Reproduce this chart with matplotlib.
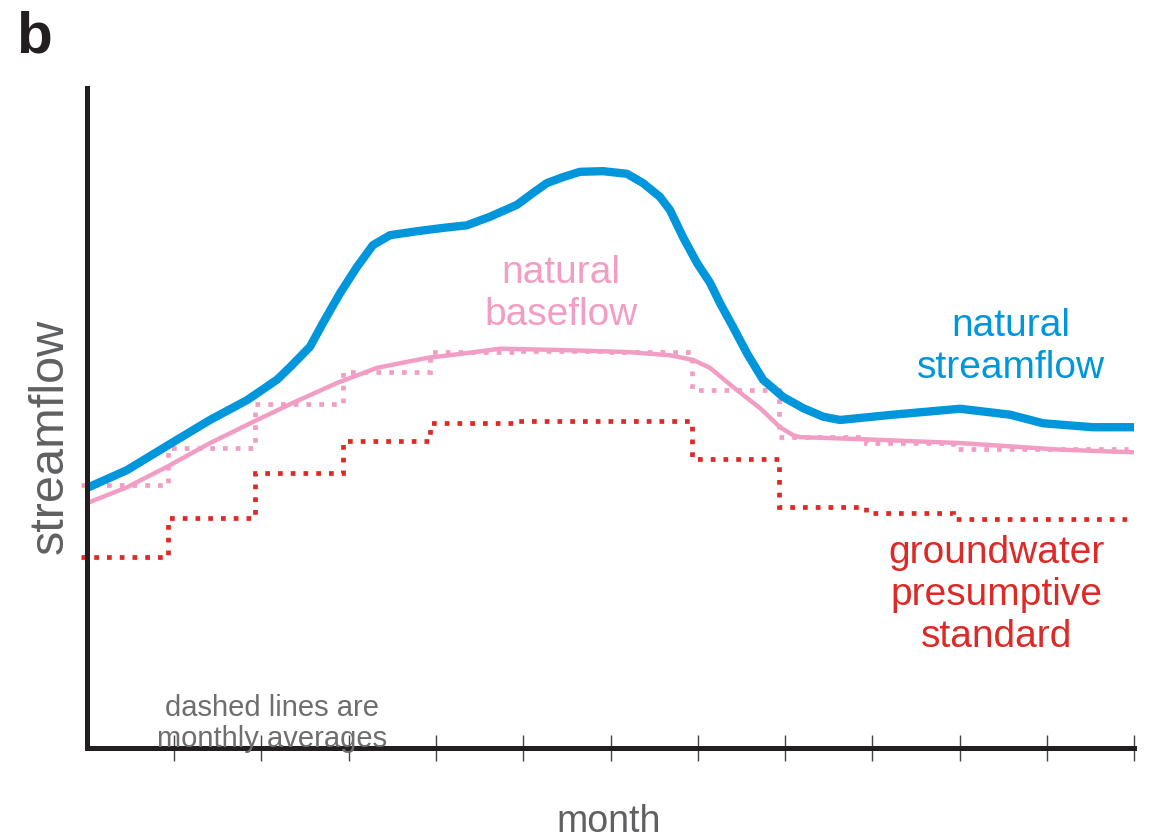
import numpy as np
import matplotlib.pyplot as plt

plt.rcParams['font.family'] = ['Liberation Sans', 'DejaVu Sans']

# natural streamflow (blue), x in months, y in arbitrary streamflow units (0-100)
flow_month = [0.0, 0.458, 1.032, 1.410, 1.834, 2.178, 2.327, 2.556, 2.705, 2.900,
              3.095, 3.278, 3.473, 3.782, 4.080, 4.355, 4.619, 4.928, 5.112, 5.272,
              5.456, 5.650, 5.914, 6.189, 6.372, 6.567, 6.682, 6.831, 6.991, 7.140,
              7.255, 7.404, 7.564, 7.748, 7.977, 8.206, 8.436, 8.630, 9.238, 10.006,
              10.579, 10.957, 11.530, 12.0]
flow_value = [39.4, 42.1, 46.7, 49.7, 52.7, 55.8, 57.7, 60.8, 64.4, 68.9,
              72.9, 76.2, 77.7, 78.3, 78.8, 79.2, 80.5, 82.3, 84.1, 85.6,
              86.5, 87.3, 87.4, 87.0, 85.6, 83.5, 81.5, 77.4, 73.5, 70.5,
              67.4, 63.8, 59.8, 55.8, 53.2, 51.5, 50.2, 49.7, 50.5, 51.4,
              50.5, 49.2, 48.6, 48.6]

# natural baseflow (pink)
base_month = [0.0, 0.458, 0.917, 1.410, 1.903, 2.361, 2.865, 3.324, 3.897, 4.275,
              4.733, 5.421, 6.189, 6.682, 6.946, 7.140, 7.404, 7.713, 7.943, 8.092,
              8.172, 8.860, 10.006, 11.152, 12.0]
base_value = [37.1, 39.5, 42.6, 46.2, 49.4, 52.3, 55.3, 57.6, 59.1, 59.7,
              60.5, 60.3, 60.0, 59.5, 58.8, 57.6, 54.7, 51.5, 48.6, 47.4,
              47.1, 46.8, 46.2, 45.2, 44.8]

# monthly averages
base_monthly = [39.8, 45.5, 52.1, 57.0, 60.0, 60.2, 60.0, 54.2, 47.1, 46.2, 45.3, 45.3]
gw_standard = [28.9, 34.8, 41.7, 46.5, 49.2, 49.5, 49.5, 43.8, 36.5, 35.6, 34.7, 34.7]

BLUE = '#0096db'
PINK = '#f29ec4'
RED = '#dc2a26'
GRAY = '#5f6062'

fig = plt.figure(figsize=(11.52, 8.39), dpi=100)
ax = fig.add_axes([0.0755, 0.1085, 0.9089, 0.7866])
ax.set_xlim(0, 12)
ax.set_ylim(0, 100)

edges = np.arange(13) - 0.07
dots = (0, (1, 1.7))
ax.stairs(base_monthly, edges, baseline=None, color=PINK, lw=3.4, linestyle=dots,
          clip_on=False, zorder=2)
ax.stairs(gw_standard, edges, baseline=None, color=RED, lw=3.4, linestyle=dots,
          clip_on=False, zorder=2)
ax.plot(base_month, base_value, color=PINK, lw=3.2, solid_joinstyle='round',
        solid_capstyle='butt', zorder=3)
ax.plot(flow_month, flow_value, color=BLUE, lw=6.0, solid_joinstyle='round',
        solid_capstyle='butt', zorder=4)

for s in ['top', 'right']:
    ax.spines[s].set_visible(False)
for s in ['left', 'bottom']:
    ax.spines[s].set_linewidth(3.6)
    ax.spines[s].set_color('#231f20')
    ax.spines[s].set_capstyle('projecting')
    ax.spines[s].set_zorder(5)

ax.set_xticks(np.arange(1, 13))
ax.set_xticklabels([])
ax.tick_params(axis='x', direction='inout', length=19, width=1.0, color='#444444')
ax.set_yticks([])

fig.text(0.014, 0.938, 'b', fontsize=42, fontweight='bold', color='#231f20', va='baseline')
fig.text(0.0434, 0.480, 'streamflow', fontsize=35, color=GRAY, rotation=90,
         ha='center', va='center')
fig.text(0.528, 0.0083, 'month', fontsize=27, color=GRAY, ha='center', va='baseline')

ax.text(0.487, 0.6496, 'natural\nbaseflow', transform=fig.transFigure, fontsize=28,
        color=PINK, ha='center', va='center', linespacing=1.22)
ax.text(0.8776, 0.5864, 'natural\nstreamflow', transform=fig.transFigure, fontsize=28,
        color=BLUE, ha='center', va='center', linespacing=1.22)
ax.text(0.865, 0.2908, 'groundwater\npresumptive\nstandard', transform=fig.transFigure,
        fontsize=28, color=RED, ha='center', va='center', linespacing=1.22)
ax.text(0.236, 0.138, 'dashed lines are\nmonthly averages', transform=fig.transFigure,
        fontsize=21, color='#6d6e70', ha='center', va='center', linespacing=1.15, zorder=6)

fig.savefig('out.png', dpi=100)
